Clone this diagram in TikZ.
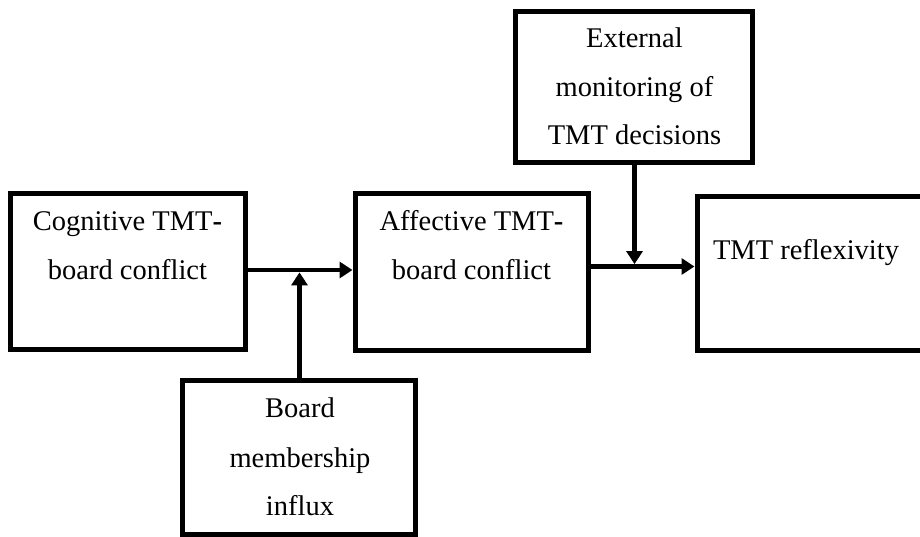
\documentclass[tikz,border=0pt]{standalone}
\usepackage{fontspec}
\setmainfont{Liberation Serif}
\usetikzlibrary{arrows.meta}
\begin{document}
\begin{tikzpicture}[x=1pt,y=-1pt,
  box/.style={draw, line width=5pt, inner sep=0pt},
  lbl/.style={font=\fontsize{28.5}{34}\selectfont, anchor=base, inner sep=0pt},
  arr/.style={line width=4.8pt, -{Triangle[length=13pt,width=16pt]}}]
\clip (0,0) rectangle (920,537);
% boxes
\node[box, minimum width=235pt, minimum height=155pt] (b1) at (127.5,271.5) {};
\node[box, minimum width=233pt, minimum height=156pt] (b2) at (471.5,272) {};
\node[box, minimum width=243pt, minimum height=153.5pt] (b3) at (818.5,273.75) {};
\node[box, minimum width=237pt, minimum height=151pt] (b4) at (634,87) {};
\node[box, minimum width=232.5pt, minimum height=154pt] (b5) at (298.75,457.5) {};
% texts
\node[lbl] (t1a) at (127.5,230) {Cognitive TMT{\bfseries -}};
\node[lbl] (t1b) at (127.5,279) {board conflict};
\node[lbl] (t2a) at (471.5,230) {Affective TMT{\bfseries -}};
\node[lbl] (t2b) at (471.5,279) {board conflict};
\node[lbl] (t3) at (806,259) {TMT reflexivity};
\node[lbl] (t4a) at (634.5,48) {External};
\node[lbl] (t4b) at (634.5,97) {monitoring of};
\node[lbl] (t4c) at (634.5,145) {TMT decisions};
\node[lbl] (t5a) at (300,417) {Board};
\node[lbl] (t5b) at (300,467) {membership};
\node[lbl] (t5c) at (300,515) {influx};
% connectors
\coordinate (j1) at (299.5,270);
\coordinate (j2) at (634.5,266.5);
\draw[arr] (b1.east |- j1) -- (b2.west |- j1);
\draw[arr] (b5.north -| j1) -- ([yshift=-2.4pt]j1);
\draw[arr] (b2.east |- j2) -- (b3.west |- j2);
\draw[arr] (b4.south -| j2) -- ([yshift=2.4pt]j2);
\end{tikzpicture}
\end{document}
